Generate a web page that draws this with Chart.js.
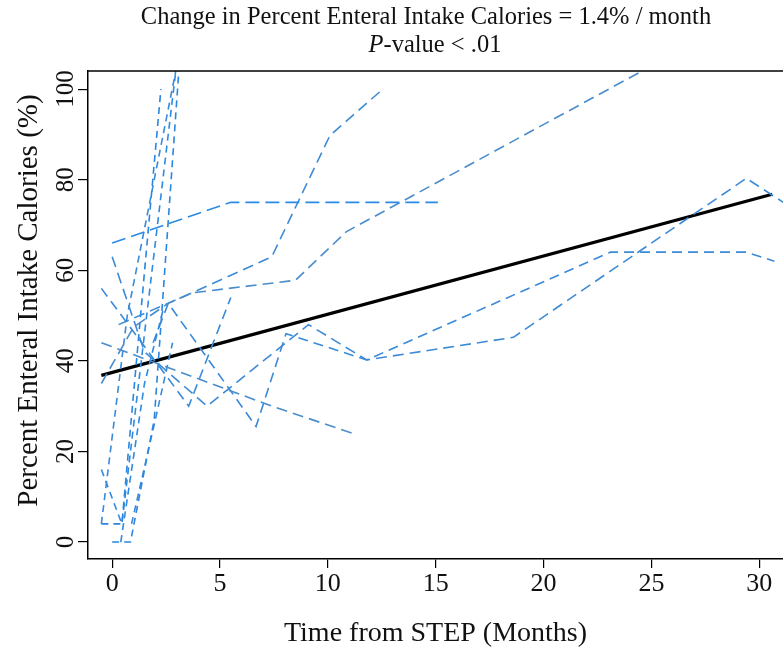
<!DOCTYPE html>
<html>
<head>
<meta charset="utf-8">
<script src="https://cdn.jsdelivr.net/npm/chart.js@4.4.1/dist/chart.umd.min.js"></script>
<style>
  html, body { margin: 0; padding: 0; background: #fff; overflow: hidden; }
  #wrap { width: 783px; height: 656px; position: relative; }
</style>
</head>
<body>
<div id="wrap"><canvas id="chart"></canvas></div>
<script>
// enteral intake spaghetti plot

const xTicks = [0, 5, 10, 15, 20, 25, 30];
const yTicks = [0, 20, 40, 60, 80, 100];

// one pair of arrays per patient: months from STEP, percent enteral calories
const months1 = [0, 5.5, 15.1];
const pct1 = [66, 75, 75];
const months2 = [-0.5, 1.0, 2.6, 3.7, 8.5, 10.85, 26.5];
const pct2 = [35, 47.5, 52.7, 55, 57.8, 68.5, 109];
const months3 = [0.3, 3.7, 7.4, 10.1, 12.55];
const pct3 = [48, 55, 63, 89.8, 100];
const months4 = [-0.5, 7.4, 11.15];
const pct4 = [44, 30, 24];
const months5 = [-0.5, 3.55, 5.5];
const pct5 = [56, 30, 54];
const months6 = [0, 1.5, 4.4, 9.1, 11.8, 18.6, 29.4, 31.6];
const pct6 = [63, 42, 30, 48, 40.2, 45.2, 80.3, 73.5];
const months7 = [1.9, 2.6, 6.67, 8.06, 11.8, 23.1, 29.4, 30.7];
const pct7 = [44, 52.7, 25.5, 46, 40.2, 64, 64, 62];
const months8 = [-0.5, 0.45, 2.26];
const pct8 = [4, 4, 100];
const months9 = [-0.5, 0.45, 3.0];
const pct9 = [16, 4, 106];
const months10 = [0, 0.85, 1.95, 3.15];
const pct10 = [0, 0, 27, 108];
const months11 = [-0.5, 0.7, 3.2];
const pct11 = [4, 50, 110];
const months12 = [0.4, 1.5, 2.4];
const pct12 = [0, 35, 52];
const months13 = [0.9, 2.0, 2.8];
const pct13 = [4, 27, 44];

const patientMonths = [months1, months2, months3, months4, months5, months6, months7, months8, months9, months10, months11, months12, months13];
const patientPct = [pct1, pct2, pct3, pct4, pct5, pct6, pct7, pct8, pct9, pct10, pct11, pct12, pct13];

// fitted mixed-model line
const fitMonths = [-0.5, 30.6];
const fitPct = [36.8, 76.8];

const dashStyles = [[14, 6], [11, 6], [11, 6], [11, 6], [10, 6], [11, 6], [10, 6], [7, 5], [7, 5], [7, 5], [7, 5], [7, 5], [7, 5]];
const lineColors = ['#2a8be6', '#4a8ccc', '#3d8bd6', '#4a8ccc', '#3a8ad8', '#3d8bd6', '#3a8ad8', '#2a86e0', '#2f8ae0', '#2a86e0', '#3a8ad8', '#2f8ae0', '#3a8ad8'];

const toPoints = (xs, ys) => xs.map((x, i) => ({ x: x, y: ys[i] }));

const datasets = patientMonths.map((m, i) => ({
  data: toPoints(m, patientPct[i]),
  borderColor: lineColors[i],
  borderWidth: 1.6,
  borderDash: dashStyles[i],
  pointRadius: 0,
  fill: false,
  tension: 0
}));

datasets.push({
  data: toPoints(fitMonths, fitPct),
  borderColor: '#000',
  borderWidth: 3.2,
  pointRadius: 0,
  fill: false
});

// title with italic P, and top edge of the plot box
const titlePlugin = {
  id: 'titleLines',
  afterDraw(chart) {
    const ctx = chart.ctx;
    const area = chart.chartArea;
    ctx.save();
    ctx.strokeStyle = '#000';
    ctx.lineWidth = 1.5;
    ctx.beginPath();
    ctx.moveTo(area.left, area.top);
    ctx.lineTo(area.right, area.top);
    ctx.stroke();

    const font = '24.5px "Liberation Serif"';
    ctx.fillStyle = '#111';
    ctx.textBaseline = 'middle';
    ctx.textAlign = 'center';
    ctx.font = font;
    ctx.fillText('Change in Percent Enteral Intake Calories = 1.4% / month', 426, 18);

    const italicPart = 'P';
    const rest = '-value < .01';
    ctx.font = 'italic ' + font;
    const w1 = ctx.measureText(italicPart).width;
    ctx.font = font;
    const w2 = ctx.measureText(rest).width;
    const startX = 435 - (w1 + w2) / 2;
    ctx.textAlign = 'left';
    ctx.font = 'italic ' + font;
    ctx.fillText(italicPart, startX, 46);
    ctx.font = font;
    ctx.fillText(rest, startX + w1, 46);
    ctx.restore();
  }
};

const chart = new Chart(document.getElementById('chart'), {
  type: 'line',
  data: { datasets: datasets },
  options: {
    responsive: true,
    maintainAspectRatio: false,
    animation: false,
    events: [],
    layout: { padding: { top: 71, right: 0, left: 0, bottom: 0 } },
    plugins: {
      legend: { display: false },
      tooltip: { enabled: false }
    },
    scales: {
      x: {
        type: 'linear',
        min: -1.12,
        max: 31.1,
        afterBuildTicks: scale => { scale.ticks = xTicks.map(v => ({ value: v })); },
        afterFit: scale => { scale.height = 97; },
        border: { display: true, color: '#000', width: 1.5 },
        grid: { display: true, drawOnChartArea: false, drawTicks: true, tickLength: 9, color: '#000', lineWidth: 1.2 },
        ticks: {
          color: '#111',
          font: { family: '"Liberation Serif"', size: 26 },
          padding: 1,
          maxRotation: 0,
          callback: v => String(v)
        },
        title: {
          display: true,
          text: 'Time from STEP (Months)',
          color: '#111',
          font: { family: '"Liberation Serif"', size: 28 },
          padding: { top: 0, bottom: 6 }
        }
      },
      y: {
        type: 'linear',
        min: -3.75,
        max: 104,
        afterBuildTicks: scale => { scale.ticks = yTicks.map(v => ({ value: v })); },
        afterFit: scale => { scale.width = 88; },
        border: { display: true, color: '#000', width: 1.5 },
        grid: { display: true, drawOnChartArea: false, drawTicks: true, tickLength: 10, color: '#000', lineWidth: 1.2 },
        ticks: {
          color: '#111',
          font: { family: '"Liberation Serif"', size: 25 },
          padding: -7,
          minRotation: 90,
          maxRotation: 90,
          crossAlign: 'center',
          callback: v => String(v)
        },
        title: {
          display: true,
          // leading spaces nudge the rotated text up to where the original sits
          text: '    Percent Enteral Intake Calories (%)',
          color: '#111',
          font: { family: '"Liberation Serif"', size: 29 },
          padding: { top: 12, bottom: 0 }
        }
      }
    }
  },
  plugins: [titlePlugin]
});
</script>
</body>
</html>
